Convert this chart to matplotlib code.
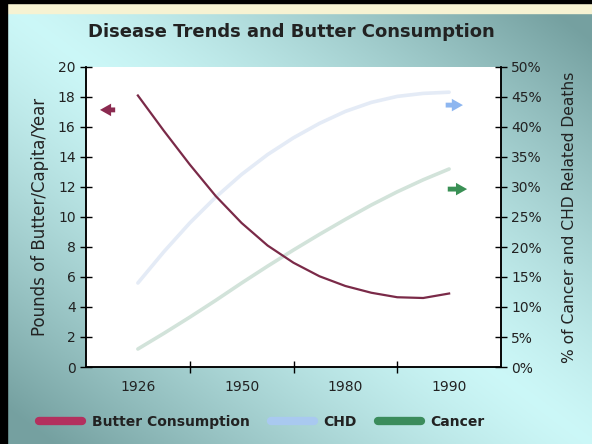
import numpy as np
import matplotlib
matplotlib.use("Agg")
import matplotlib.pyplot as plt
from matplotlib.lines import Line2D
from matplotlib.patches import Rectangle

plt.rcParams['font.family'] = ['DejaVu Sans']

# category labels (one per band of the x axis)
years = ['1926', '1950', '1980', '1990']

# curve samples, x in category units (1926 centre = 0.5, 1990 centre = 3.5)
curve_x = [0.5, 0.75, 1.0, 1.25, 1.5, 1.75, 2.0, 2.25, 2.5, 2.75, 3.0, 3.25, 3.5]
butter = [18.1, 15.75, 13.5, 11.4, 9.6, 8.1, 6.95, 6.05, 5.4, 4.95, 4.65, 4.6, 4.9]
chd = [14.0, 19.2, 24.0, 28.3, 32.1, 35.4, 38.2, 40.6, 42.6, 44.1, 45.1, 45.6, 45.8]
cancer = [3.0, 5.6, 8.3, 11.1, 14.0, 16.8, 19.5, 22.1, 24.6, 27.0, 29.2, 31.2, 33.0]

fig = plt.figure(figsize=(5.92, 4.44), dpi=100)

# background gradient: light along the main diagonal, darker teal in two corners
bg = fig.add_axes([0, 0, 1, 1], zorder=-10)
gx, gy = np.meshgrid(np.linspace(0, 1, 300), np.linspace(0, 1, 300))
d = (np.clip(np.abs(gx - gy) * 1.1, 0, 1) ** 1.3)[..., None]
light = np.array([0.80, 0.97, 0.97])
dark = np.array([0.46, 0.63, 0.63])
bg.imshow(light * (1 - d) + dark * d, aspect='auto', extent=[0, 1, 0, 1], origin='upper')
bg.set_xlim(0, 1)
bg.set_ylim(0, 1)
bg.axis('off')

# frame bits: black top and left edge, pale yellow strip under the top
fig.patches.append(Rectangle((0, 1 - 13 / 444), 1, 10 / 444, transform=fig.transFigure,
                             color='#f6f2d2', zorder=-5))
fig.patches.append(Rectangle((0, 1 - 3 / 444), 1, 3 / 444, transform=fig.transFigure,
                             color='black', zorder=-4))
fig.patches.append(Rectangle((0, 0), 7 / 592, 1, transform=fig.transFigure,
                             color='black', zorder=-4))

ax = fig.add_axes([86 / 592, 77 / 444, 415 / 592, 300 / 444])
ax2 = ax.twinx()

ax2.plot(curve_x, chd, color='#e4ebf6', lw=2.6, solid_capstyle='round')
ax2.plot(curve_x, cancer, color='#d2e3da', lw=2.6, solid_capstyle='round')
ax.plot(curve_x, butter, color='#7a2a48', lw=1.6, zorder=5)
ax.set_zorder(ax2.get_zorder() + 1)
ax.patch.set_visible(False)
ax2.patch.set_visible(True)
ax2.patch.set_facecolor('white')

ax.set_xlim(0, 4)
ax.set_ylim(0, 20)
ax2.set_ylim(0, 50)

ax.set_xticks([1, 2, 3])
ax.set_xticklabels([])
ax.set_xticks([0.5, 1.5, 2.5, 3.5], minor=True)
ax.set_xticklabels(years, minor=True)
ax.tick_params(axis='x', which='major', direction='inout', length=8, width=1)
ax.tick_params(axis='x', which='minor', length=0, pad=9, labelsize=10, labelcolor='#222222')

ax.set_yticks(range(0, 21, 2))
ax.tick_params(axis='y', direction='inout', length=8, width=1, labelsize=10, labelcolor='#222222')
ax2.set_yticks(range(0, 51, 5))
ax2.set_yticklabels(['{0}%'.format(v) for v in range(0, 51, 5)])
ax2.tick_params(axis='y', direction='inout', length=8, width=1, labelsize=10, labelcolor='#222222')

for a in (ax, ax2):
    a.spines['top'].set_visible(False)
    for s in ('left', 'right', 'bottom'):
        a.spines[s].set_linewidth(1.1)

ax.set_ylabel('Pounds of Butter/Capita/Year', fontsize=12, color='#222222', labelpad=6)
ax2.set_ylabel('% of Cancer and CHD Related Deaths', fontsize=11.2, color='#222222', labelpad=14)

# pointer arrows showing which axis each series uses
astyle = 'simple,head_width=0.9,head_length=0.8,tail_width=0.35'
ax.annotate('', xy=(0.027, 0.857), xytext=(0.077, 0.857), xycoords='axes fraction',
            arrowprops=dict(arrowstyle=astyle, color='#8b2a50', mutation_scale=10, lw=0))
ax.annotate('', xy=(0.915, 0.873), xytext=(0.860, 0.873), xycoords='axes fraction',
            arrowprops=dict(arrowstyle=astyle, color='#8db6f0', mutation_scale=10, lw=0))
ax.annotate('', xy=(0.925, 0.593), xytext=(0.865, 0.593), xycoords='axes fraction',
            arrowprops=dict(arrowstyle=astyle, color='#3a9055', mutation_scale=10, lw=0))

fig.text(291 / 592, 1 - 32 / 444, 'Disease Trends and Butter Consumption',
         ha='center', va='center', fontsize=13, fontweight='bold', color='#222222')

handles = [Line2D([], [], color='#b3305e', lw=6, solid_capstyle='round'),
           Line2D([], [], color='#a9c9f0', lw=6, solid_capstyle='round'),
           Line2D([], [], color='#3b8c5c', lw=6, solid_capstyle='round')]
leg = fig.legend(handles, ['Butter Consumption', 'CHD', 'Cancer'], loc='center',
                 bbox_to_anchor=(262 / 592, 22 / 444), ncol=3, frameon=False,
                 handlelength=3.1, handletextpad=0.7, columnspacing=1.5,
                 prop={'weight': 'bold', 'size': 10})
for t in leg.get_texts():
    t.set_color('#222222')

fig.savefig('out.png', dpi=100)
